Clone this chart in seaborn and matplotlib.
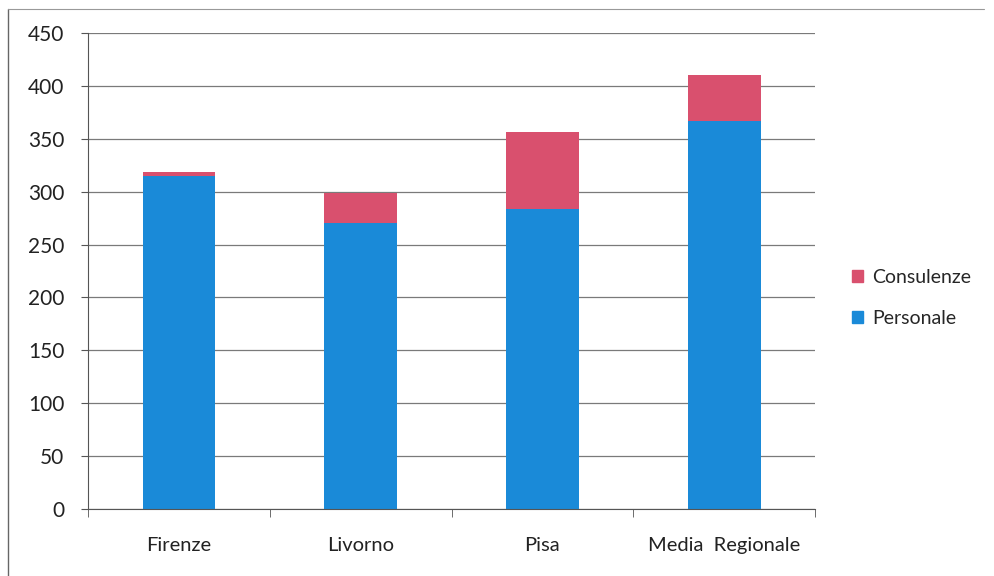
import pandas as pd
import seaborn as sns
import matplotlib.pyplot as plt
from matplotlib.patches import Patch
from matplotlib.lines import Line2D

# dati
citta = ['Firenze', 'Livorno', 'Pisa', 'Media  Regionale']
personale = [315, 270, 284, 367]
consulenze = [4, 29, 72, 43]

col_pers = '#1a8ad8'
col_cons = '#d9506e'

df = pd.DataFrame({'citta': citta, 'Personale': personale, 'Consulenze': consulenze})
df['Totale'] = df['Personale'] + df['Consulenze']

sns.set_style('white')
plt.rcParams['font.family'] = ['Lato', 'DejaVu Sans']

fig = plt.figure(figsize=(9.94, 5.76), dpi=100)
ax = fig.add_axes([0.0885, 0.1163, 0.7315, 0.8264])

# griglia orizzontale dietro le barre
ax.set_axisbelow(True)
ax.yaxis.grid(True, color='#7a7a7a', linewidth=0.9)

# barre impilate: totale (consulenze) sotto, personale sopra
sns.barplot(data=df, x='citta', y='Totale', color=col_cons, width=0.4,
            saturation=1, linewidth=0, ax=ax)
sns.barplot(data=df, x='citta', y='Personale', color=col_pers, width=0.4,
            saturation=1, linewidth=0, ax=ax)

ax.set_ylim(0, 450)
ax.set_yticks(range(0, 451, 50))
ax.set_xlim(-0.5, 3.5)
ax.set_xlabel('')
ax.set_ylabel('')

for s in ['top', 'right']:
    ax.spines[s].set_visible(False)
ax.spines['left'].set_color('#555555')
ax.spines['bottom'].set_color('#555555')

ax.tick_params(axis='y', left=True, length=5, color='#555555',
               labelsize=15, labelcolor='#222222', pad=12)
ax.tick_params(axis='x', bottom=False, labelsize=14.5, labelcolor='#222222', pad=17)

# tacche tra le categorie sull'asse x
ax.set_xticks([-0.5, 0.5, 1.5, 2.5, 3.5], minor=True)
ax.tick_params(axis='x', which='minor', bottom=True, length=6, color='#555555')

handles = [Patch(color=col_cons, label='Consulenze'),
           Patch(color=col_pers, label='Personale')]
fig.legend(handles=handles, loc='center left', bbox_to_anchor=(0.84, 0.483),
           frameon=False, fontsize=14, handlelength=0.55, handleheight=0.55,
           handletextpad=0.45, labelspacing=1.25)

# cornice del grafico
fig.add_artist(Line2D([0.008, 0.008], [0.0, 0.985], color='#666666', lw=1))
fig.add_artist(Line2D([0.008, 0.99], [0.985, 0.985], color='#999999', lw=0.8))

fig.savefig('out.png', dpi=100)
